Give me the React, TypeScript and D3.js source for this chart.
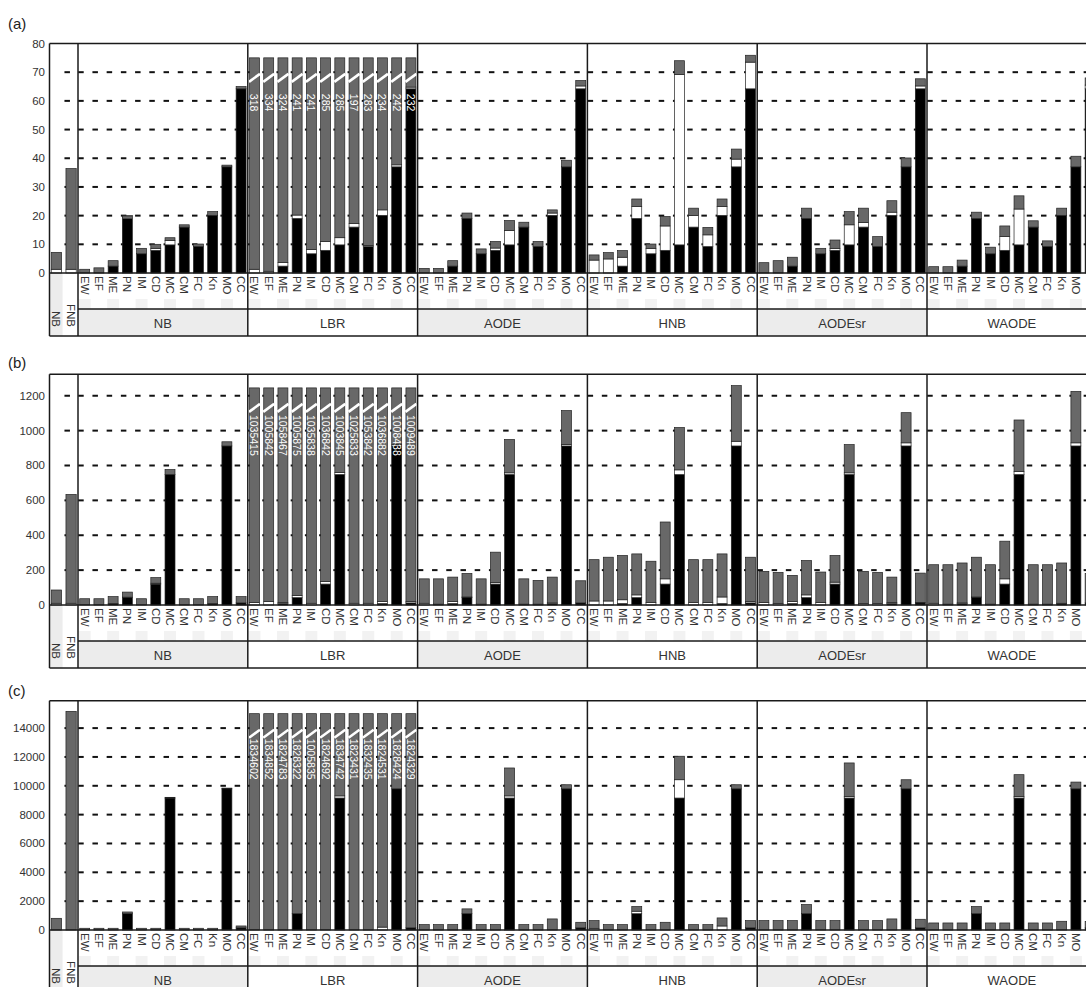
import React from "react";
import * as d3 from "d3";

// categories and method groups
const categories = ["EW", "EF", "ME", "PN", "IM", "CD", "MC", "CM", "FC", "Kn", "MO", "CC"];
const methods = ["NB", "LBR", "AODE", "HNB", "AODEsr", "WAODE"];
const baselineBars = ["NB", "FNB"];

// ---- panel (a)
const ticksA = [0, 10, 20, 30, 40, 50, 60, 70, 80];
const blackA = [0, 0, 2.4, 19, 6.7, 7.9, 9.8, 16, 9.2, 20.1, 37, 64.2];
const firstWhiteA = [1.3, 1.3];
const firstGrayA = [7.2, 36.4];
const nbWhiteA = [0, 0, 2.4, 19.5, 6.7, 8.6, 11.3, 16, 9.2, 20.1, 37, 64.2];
const nbGrayA = [1.3, 1.8, 4.3, 20, 8.6, 10, 12.3, 16.8, 10.1, 21.4, 37.6, 65];
const lbrWhiteA = [1.3, 0.6, 3.7, 20.2, 8.2, 11, 12.3, 17.2, 9.6, 22, 37.7, 64.8];
const lbrTextA = ["318", "334", "324", "241", "241", "285", "285", "197", "283", "234", "242", "232"];
const aodeWhiteA = [0, 0, 2.4, 19, 6.7, 8.7, 14.8, 16, 9.2, 20.9, 37, 65.2];
const aodeGrayA = [1.6, 1.6, 4.3, 20.9, 8.4, 11, 18.3, 17.7, 11, 22, 39.3, 67.1];
const hnbWhiteA = [4.5, 4.9, 5.5, 23.2, 8.6, 16.4, 69.2, 20, 13.3, 23.2, 39.7, 73.5];
const hnbGrayA = [6.3, 7.1, 7.8, 25.8, 10.1, 19.7, 74, 22.6, 15.9, 25.8, 43.2, 75.9];
const aodesrWhiteA = [0, 0, 2.4, 19, 6.7, 8.6, 16.8, 17.6, 9.2, 21.2, 37, 65.2];
const aodesrGrayA = [3.6, 4.3, 5.5, 22.6, 8.6, 11.5, 21.4, 22.6, 12.7, 25.2, 40.1, 67.7];
const waodeWhiteA = [0, 0, 2.4, 19, 6.7, 12.7, 22.3, 16, 9.2, 20.1, 37, 65.5];
const waodeGrayA = [2.2, 2.2, 4.5, 21.2, 9, 16.4, 26.9, 18.2, 11.2, 22.6, 40.7, 68];

// ---- panel (b)
const ticksB = [0, 200, 400, 600, 800, 1000, 1200];
const blackB = [0, 0, 8, 42, 0, 120, 748, 0, 0, 8, 912, 12];
const firstWhiteB = [10, 10];
const firstGrayB = [86, 634];
const nbWhiteB = [0, 0, 8, 45, 0, 125, 748, 0, 0, 8, 912, 12];
const nbGrayB = [36, 36, 48, 74, 36, 157, 777, 36, 36, 48, 936, 48];
const lbrWhiteB = [15, 20, 15, 55, 10, 135, 760, 10, 10, 20, 920, 20];
const lbrTextB = ["1035415", "1005842", "1058467", "1005875", "1035838", "1036842", "1003845", "1025833", "1053842", "1036882", "1008438", "1009489"];
const aodeWhiteB = [10, 5, 20, 46, 5, 129, 758, 5, 5, 12, 920, 12];
const aodeGrayB = [150, 150, 160, 181, 150, 303, 949, 150, 141, 160, 1115, 139];
const hnbWhiteB = [23, 23, 30, 58, 15, 150, 775, 15, 15, 46, 939, 20];
const hnbGrayB = [260, 274, 284, 293, 251, 476, 1018, 260, 260, 293, 1258, 274];
const aodesrWhiteB = [15, 8, 20, 58, 15, 131, 758, 8, 8, 15, 930, 15];
const aodesrGrayB = [193, 187, 170, 255, 189, 284, 920, 193, 187, 160, 1103, 183];
const waodeWhiteB = [10, 5, 12, 46, 5, 150, 766, 5, 5, 10, 930, 10];
const waodeGrayB = [231, 231, 241, 274, 231, 366, 1061, 231, 231, 241, 1225, 180];

// ---- panel (c)
const ticksC = [0, 2000, 4000, 6000, 8000, 10000, 12000, 14000];
const blackC = [0, 0, 0, 1130, 0, 0, 9150, 0, 0, 0, 9790, 150];
const firstWhiteC = [0, 0];
const firstGrayC = [810, 15162];
const nbWhiteC = [0, 0, 0, 1130, 0, 0, 9150, 0, 0, 0, 9790, 150];
const nbGrayC = [120, 120, 120, 1250, 120, 120, 9200, 120, 120, 120, 9838, 280];
const lbrWhiteC = [0, 0, 0, 1130, 0, 0, 9300, 0, 0, 200, 9790, 150];
const lbrTextC = ["1834602", "1834852", "1824783", "1828322", "1005835", "1824692", "1834742", "1823431", "1832435", "1824531", "1828424", "1824329"];
const aodeWhiteC = [0, 0, 0, 1130, 0, 0, 9300, 0, 0, 0, 9790, 150];
const aodeGrayC = [372, 372, 372, 1465, 372, 372, 11235, 372, 372, 768, 10072, 535];
const hnbWhiteC = [116, 0, 0, 1302, 0, 0, 10420, 0, 0, 279, 9790, 150];
const hnbGrayC = [651, 372, 372, 1628, 372, 535, 12049, 372, 372, 837, 10072, 651];
const aodesrWhiteC = [0, 0, 0, 1130, 0, 0, 9258, 0, 0, 0, 9790, 150];
const aodesrGrayC = [651, 651, 651, 1768, 651, 651, 11584, 651, 651, 768, 10420, 744];
const waodeWhiteC = [0, 0, 0, 1130, 0, 0, 9258, 0, 0, 0, 9790, 150];
const waodeGrayC = [488, 488, 488, 1628, 488, 488, 10770, 488, 488, 605, 10258, 600];

const panels = [
  {
    name: "(a)", ticks: ticksA, yMax: 80, cap: 75, black: blackA,
    firstWhite: firstWhiteA, firstGray: firstGrayA, lbrText: lbrTextA,
    white: [nbWhiteA, lbrWhiteA, aodeWhiteA, hnbWhiteA, aodesrWhiteA, waodeWhiteA],
    gray: [nbGrayA, null, aodeGrayA, hnbGrayA, aodesrGrayA, waodeGrayA],
  },
  {
    name: "(b)", ticks: ticksB, yMax: 1323, cap: 1245, black: blackB,
    firstWhite: firstWhiteB, firstGray: firstGrayB, lbrText: lbrTextB,
    white: [nbWhiteB, lbrWhiteB, aodeWhiteB, hnbWhiteB, aodesrWhiteB, waodeWhiteB],
    gray: [nbGrayB, null, aodeGrayB, hnbGrayB, aodesrGrayB, waodeGrayB],
  },
  {
    name: "(c)", ticks: ticksC, yMax: 15900, cap: 15000, black: blackC,
    firstWhite: firstWhiteC, firstGray: firstGrayC, lbrText: lbrTextC,
    white: [nbWhiteC, lbrWhiteC, aodeWhiteC, hnbWhiteC, aodesrWhiteC, waodeWhiteC],
    gray: [nbGrayC, null, aodeGrayC, hnbGrayC, aodesrGrayC, waodeGrayC],
  },
];

// page layout
const W = 1086;
const H = 987;
const frameLeft = 49.5;
const firstRight = 78;
const groupW = 169.8;
const layout = [
  { top: 43.5, zero: 273, titleY: 29, textOff: 16 },
  { top: 374.3, zero: 605, titleY: 368, textOff: 7 },
  { top: 700.7, zero: 930, titleY: 696, textOff: 5 },
];
const FONT = "Liberation Sans, Arial, Helvetica, sans-serif";
const GRAY = "#686868";
const INK = "#1a1a1a";

const xFirst = d3.scaleBand().domain(baselineBars).range([frameLeft, firstRight]).paddingInner(0.3).paddingOuter(0.12);
const xGroup = d3.scaleBand().domain(methods).range([firstRight, firstRight + groupW * methods.length]);
const xBar = d3.scaleBand().domain(categories).range([0, groupW]).paddingInner(0.3).paddingOuter(0.12);

function Stack({ x, w, y, black, white, gray }) {
  const segs = [
    [0, black, "#000"],
    [black, white, "#fff"],
    [Math.max(black, white), gray, GRAY],
  ];
  return (
    <g>
      {segs.map(([a, b, c], i) =>
        b > a ? (
          <rect key={i} x={x} width={w} y={y(b)} height={y(a) - y(b)} fill={c as string} stroke="#222" strokeWidth={0.7} />
        ) : null
      )}
    </g>
  );
}

function Panel({ p, l }) {
  const y = d3.scaleLinear().domain([0, p.yMax]).range([l.zero, l.top]);
  const labelBottom = l.zero + 36;
  const groupBottom = l.zero + 63;
  const bw = xBar.bandwidth();
  const fw = xFirst.bandwidth();
  const gridTicks = p.ticks.filter((t) => t > 0 && t < p.yMax);

  // left edge of every bar that gets a grid dash
  const dashX = [xFirst("FNB")];
  methods.forEach((m) => categories.forEach((c) => dashX.push(xGroup(m) + xBar(c))));

  return (
    <g>
      <text x={8} y={l.titleY} fontSize={15} fill="#222" fontFamily={FONT}>{p.name}</text>

      {/* label row shading */}
      <rect x={xFirst("NB") - 1} width={fw + 2} y={l.zero} height={groupBottom - l.zero} fill="#ececec" />
      {methods.map((m, gi) => (
        <g key={m}>
          {gi % 2 === 0 && (
            <rect x={xGroup(m)} width={groupW} y={labelBottom} height={groupBottom - labelBottom} fill="#ececec" />
          )}
          {categories.map((c, ci) =>
            ci % 2 === 0 ? (
              <rect key={c} x={xGroup(m) + xBar(c) - 1} width={bw + 2} y={l.zero + 26} height={labelBottom - l.zero - 26} fill="#f2f2f2" />
            ) : null
          )}
        </g>
      ))}

      {/* dashed grid, drawn as short dashes before each bar */}
      {gridTicks.map((t) => (
        <g key={t}>
          {dashX.map((x, i) => (
            <line key={i} x1={x - 1.5} x2={x + 4} y1={y(t)} y2={y(t)} stroke="#111" strokeWidth={2} />
          ))}
        </g>
      ))}

      {/* baseline bars */}
      {baselineBars.map((b, i) => (
        <Stack key={b} x={xFirst(b)} w={fw} y={y} black={0} white={p.firstWhite[i]} gray={p.firstGray[i]} />
      ))}

      {/* method groups */}
      {methods.map((m, gi) => (
        <g key={m}>
          {categories.map((c, ci) => {
            const x = xGroup(m) + xBar(c);
            const isLBR = m === "LBR";
            const gray = isLBR ? p.cap : p.gray[gi][ci];
            const ys = y(p.cap) + 20;
            return (
              <g key={c}>
                <Stack x={x} w={bw} y={y} black={p.black[ci]} white={p.white[gi][ci]} gray={gray} />
                {isLBR && (
                  <g>
                    <line x1={x - 0.5} x2={x + bw + 0.5} y1={ys + 4} y2={ys - 4} stroke="#fff" strokeWidth={2.6} />
                    <text
                      transform={`translate(${x + bw / 2},${ys + l.textOff}) rotate(90)`}
                      dominantBaseline="central"
                      fontSize={10.5}
                      fill="#fff"
                      fontFamily={FONT}
                    >
                      {p.lbrText[ci]}
                    </text>
                  </g>
                )}
              </g>
            );
          })}
        </g>
      ))}

      {/* y tick labels */}
      {p.ticks.map((t) => (
        <text key={t} x={45} y={y(t)} textAnchor="end" dominantBaseline="central" fontSize={11.5} fill="#333" fontFamily={FONT}>
          {t}
        </text>
      ))}

      {/* category labels */}
      {baselineBars.map((b) => (
        <text
          key={b}
          transform={`translate(${xFirst(b) + fw / 2},${l.zero + 54}) rotate(90)`}
          textAnchor="end"
          dominantBaseline="central"
          fontSize={11.5}
          fill="#333"
          fontFamily={FONT}
        >
          {b}
        </text>
      ))}
      {methods.map((m) =>
        categories.map((c) => {
          const cx = xGroup(m) + xBar(c) + bw / 2;
          if (cx > W - 4) return null;
          return (
            <text
              key={m + c}
              transform={`translate(${cx},${l.zero + 3}) rotate(90)`}
              dominantBaseline="central"
              fontSize={11.5}
              fill="#333"
              fontFamily={FONT}
            >
              {c}
            </text>
          );
        })
      )}
      {methods.map((m) => (
        <text
          key={m}
          x={xGroup(m) + groupW / 2}
          y={(labelBottom + groupBottom) / 2 + 1}
          textAnchor="middle"
          dominantBaseline="central"
          fontSize={13}
          fill="#333"
          fontFamily={FONT}
        >
          {m}
        </text>
      ))}

      {/* frame */}
      <g stroke={INK} strokeWidth={1.5} fill="none">
        <line x1={frameLeft} x2={W} y1={l.top} y2={l.top} />
        <line x1={frameLeft} x2={W} y1={l.zero} y2={l.zero} />
        <line x1={firstRight} x2={W} y1={labelBottom} y2={labelBottom} />
        <line x1={frameLeft} x2={W} y1={groupBottom} y2={groupBottom} />
        <line x1={frameLeft} x2={frameLeft} y1={l.top} y2={groupBottom} />
        {methods.map((m) => (
          <line key={m} x1={xGroup(m)} x2={xGroup(m)} y1={l.top} y2={groupBottom} />
        ))}
      </g>
    </g>
  );
}

export default function App() {
  return (
    <svg
      width={W}
      height={H}
      viewBox={`0 0 ${W} ${H}`}
      style={{ position: "absolute", left: 0, top: 0, background: "#fff" }}
    >
      <rect width={W} height={H} fill="#fff" />
      {panels.map((p, i) => (
        <Panel key={p.name} p={p} l={layout[i]} />
      ))}
    </svg>
  );
}
